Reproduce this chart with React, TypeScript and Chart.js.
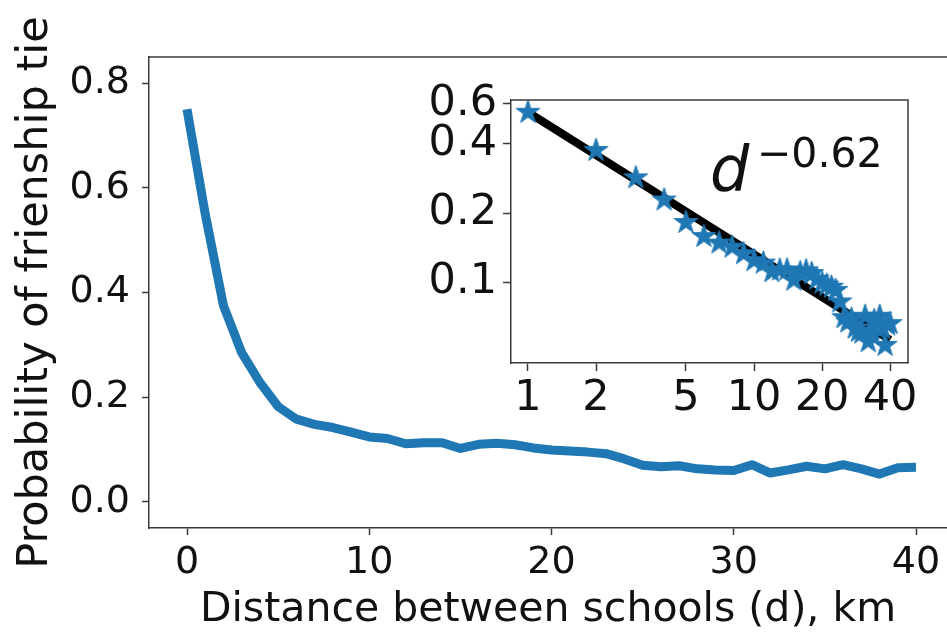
import React, { useEffect, useRef } from "react";
import { Chart, registerables } from "chart.js";

Chart.register(...registerables);

// ---- data ----
const distanceKm = [
  0, 1, 2, 3, 4, 5, 6, 7, 8, 9, 10, 11, 12, 13, 14, 15, 16, 17, 18, 19, 20,
  21, 22, 23, 24, 25, 26, 27, 28, 29, 30, 31, 32, 33, 34, 35, 36, 37, 38, 39, 40,
];
const tieProbability = [
  0.75, 0.55, 0.375, 0.285, 0.228, 0.182, 0.158, 0.148, 0.142, 0.133, 0.124,
  0.121, 0.111, 0.113, 0.113, 0.102, 0.11, 0.112, 0.109, 0.103, 0.099,
  0.097, 0.095, 0.092, 0.082, 0.07, 0.067, 0.069, 0.063, 0.061, 0.06,
  0.071, 0.055, 0.061, 0.068, 0.063, 0.071, 0.063, 0.053, 0.065, 0.066,
];
const mainXTicks = [0, 10, 20, 30, 40];
const mainYTicks = [0, 0.2, 0.4, 0.6, 0.8];
const insetXTicks = [1, 2, 5, 10, 20, 40];
const insetYTicks = [0.1, 0.2, 0.4, 0.6];
const fitDistance = [1, 40];
const fitProbability = [0.55, 0.056];
const fitBase = "d";
const fitExponent = "\u22120.62";
const xTitle = "Distance between schools (d), km";
const yTitle = "Probability of frienship tie";

const FONT = '"DejaVu Sans", "Liberation Sans", sans-serif';
const BLUE = "#1f77b4";
const SPINE = "#3a3a3a";
const TEXT = "#111";

function makeStar(r: number, color: string): HTMLCanvasElement {
  const size = Math.ceil(2 * r + 2);
  const c = document.createElement("canvas");
  c.width = size;
  c.height = size;
  const ctx = c.getContext("2d")!;
  const cx = size / 2;
  const cy = size / 2;
  ctx.beginPath();
  for (let i = 0; i < 10; i++) {
    const rad = i % 2 === 0 ? r : r * 0.382;
    const a = -Math.PI / 2 + (i * Math.PI) / 5;
    const px = cx + rad * Math.cos(a);
    const py = cy + rad * Math.sin(a);
    if (i === 0) ctx.moveTo(px, py);
    else ctx.lineTo(px, py);
  }
  ctx.closePath();
  ctx.fillStyle = color;
  ctx.fill();
  ctx.strokeStyle = color;
  ctx.lineWidth = 1;
  ctx.stroke();
  return c;
}

function framePlugin(id: string, sides: string[], fillWhite: boolean) {
  return {
    id,
    beforeDraw(chart: any) {
      if (!fillWhite) return;
      const { ctx, chartArea: a } = chart;
      ctx.save();
      ctx.fillStyle = "#ffffff";
      ctx.fillRect(a.left, a.top, a.right - a.left, a.bottom - a.top);
      ctx.restore();
    },
    afterDraw(chart: any) {
      const { ctx, chartArea: a } = chart;
      ctx.save();
      ctx.strokeStyle = SPINE;
      ctx.lineWidth = 1.5;
      ctx.beginPath();
      if (sides.includes("top")) {
        ctx.moveTo(a.left - 0.75, a.top);
        ctx.lineTo(a.right + 0.75, a.top);
      }
      if (sides.includes("right")) {
        ctx.moveTo(a.right, a.top);
        ctx.lineTo(a.right, a.bottom);
      }
      ctx.stroke();
      ctx.restore();
    },
  };
}

export default function App() {
  const mainRef = useRef<HTMLCanvasElement>(null);
  const insetRef = useRef<HTMLCanvasElement>(null);

  useEffect(() => {
    if (!mainRef.current || !insetRef.current) return;

    const mainChart = new Chart(mainRef.current, {
      type: "line",
      data: {
        datasets: [
          {
            data: distanceKm.map((x, i) => ({ x, y: tieProbability[i] })),
            borderColor: BLUE,
            backgroundColor: BLUE,
            borderWidth: 9,
            pointRadius: 0,
            tension: 0,
            fill: false,
            borderJoinStyle: "round",
            borderCapStyle: "butt",
          } as any,
        ],
      },
      options: {
        responsive: false,
        animation: false,
        layout: { padding: { top: 57, left: 0, right: 0, bottom: 0 } },
        plugins: { legend: { display: false }, tooltip: { enabled: false } },
        scales: {
          x: {
            type: "linear",
            min: -2.085,
            max: 41.7,
            afterBuildTicks: (s: any) => {
              s.ticks = mainXTicks.map((v) => ({ value: v }));
            },
            afterFit: (s: any) => {
              s.height = 104;
            },
            grid: {
              drawOnChartArea: false,
              drawTicks: true,
              tickLength: 7,
              tickWidth: 1.5,
              tickColor: SPINE,
            },
            border: { display: true, color: SPINE, width: 1.5 },
            ticks: {
              font: { family: FONT, size: 38 },
              color: TEXT,
              padding: 5,
              maxRotation: 0,
              autoSkip: false,
              callback: (v: any) => String(v),
            },
            title: {
              display: true,
              text: xTitle,
              font: { family: FONT, size: 41, lineHeight: 1 },
              color: TEXT,
              padding: { top: 0, bottom: 1 },
            },
          },
          y: {
            type: "linear",
            min: -0.05,
            max: 0.85,
            afterBuildTicks: (s: any) => {
              s.ticks = mainYTicks.map((v) => ({ value: v }));
            },
            afterFit: (s: any) => {
              s.width = 149;
            },
            grid: {
              drawOnChartArea: false,
              drawTicks: true,
              tickLength: 7,
              tickWidth: 1.5,
              tickColor: SPINE,
            },
            border: { display: true, color: SPINE, width: 1.5 },
            ticks: {
              font: { family: FONT, size: 38 },
              color: TEXT,
              padding: 12,
              autoSkip: false,
              callback: (v: any) => Number(v).toFixed(1),
            },
            title: {
              display: true,
              text: yTitle,
              font: { family: FONT, size: 43, lineHeight: 1.2 },
              color: TEXT,
              padding: { top: 10, bottom: 0 },
            },
          },
        },
      } as any,
      plugins: [framePlugin("mainFrame", ["top"], false)],
    });

    const star = makeStar(12.5, BLUE);

    const annotation = {
      id: "powerLawLabel",
      afterDraw(chart: any) {
        const { ctx, chartArea: a } = chart;
        ctx.save();
        ctx.fillStyle = TEXT;
        ctx.textAlign = "left";
        ctx.textBaseline = "alphabetic";
        ctx.font = `italic 62px ${FONT}`;
        ctx.fillText(fitBase, a.left + 199, a.top + 90);
        ctx.font = `41px ${FONT}`;
        ctx.fillText(fitExponent, a.left + 246, a.top + 67);
        ctx.restore();
      },
    };

    const insetChart = new Chart(insetRef.current, {
      type: "scatter",
      data: {
        datasets: [
          {
            data: fitDistance.map((x, i) => ({ x, y: fitProbability[i] })),
            showLine: true,
            borderColor: "#000000",
            backgroundColor: "#000000",
            borderWidth: 8,
            pointRadius: 0,
            tension: 0,
            order: 1,
          } as any,
          {
            data: distanceKm
              .slice(1)
              .map((x, i) => ({ x, y: tieProbability[i + 1] })),
            showLine: false,
            pointStyle: star,
            pointRadius: 12.5,
            borderColor: BLUE,
            backgroundColor: BLUE,
            order: 0,
          } as any,
        ],
      },
      options: {
        responsive: false,
        animation: false,
        layout: { padding: { top: 100, left: 400, right: 39, bottom: 209 } },
        plugins: { legend: { display: false }, tooltip: { enabled: false } },
        scales: {
          x: {
            type: "logarithmic",
            min: 0.841,
            max: 48,
            afterBuildTicks: (s: any) => {
              s.ticks = insetXTicks.map((v) => ({ value: v }));
            },
            afterFit: (s: any) => {
              s.height = 60;
            },
            grid: {
              drawOnChartArea: false,
              drawTicks: true,
              tickLength: 8,
              tickWidth: 1.5,
              tickColor: SPINE,
            },
            border: { display: true, color: SPINE, width: 1.5 },
            ticks: {
              font: { family: FONT, size: 43 },
              color: TEXT,
              padding: 2,
              maxRotation: 0,
              autoSkip: false,
              callback: (v: any) => String(v),
            },
          },
          y: {
            type: "logarithmic",
            min: 0.0444,
            max: 0.622,
            afterBuildTicks: (s: any) => {
              s.ticks = insetYTicks.map((v) => ({ value: v }));
            },
            afterFit: (s: any) => {
              s.width = 111;
            },
            grid: {
              drawOnChartArea: false,
              drawTicks: true,
              tickLength: 8,
              tickWidth: 1.5,
              tickColor: SPINE,
            },
            border: { display: true, color: SPINE, width: 1.5 },
            ticks: {
              font: { family: FONT, size: 43 },
              color: TEXT,
              padding: 6,
              autoSkip: false,
              callback: (v: any) => Number(v).toFixed(1),
            },
          },
        },
      } as any,
      plugins: [framePlugin("insetFrame", ["top", "right"], true), annotation],
    });

    return () => {
      mainChart.destroy();
      insetChart.destroy();
    };
  }, []);

  return (
    <div
      style={{
        position: "absolute",
        left: 0,
        top: 0,
        width: 947,
        height: 632,
        background: "#ffffff",
        overflow: "hidden",
      }}
    >
      <canvas
        ref={mainRef}
        width={947}
        height={632}
        style={{ position: "absolute", left: 0, top: 0, width: 947, height: 632 }}
      />
      <canvas
        ref={insetRef}
        width={947}
        height={632}
        style={{ position: "absolute", left: 0, top: 0, width: 947, height: 632 }}
      />
    </div>
  );
}
